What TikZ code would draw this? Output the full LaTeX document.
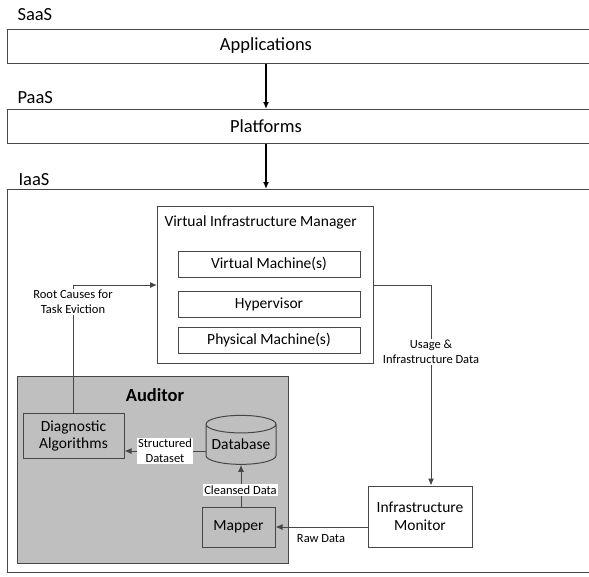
\documentclass[tikz,border=0pt]{standalone}
\usepackage{fontspec}
\setmainfont{Carlito}
\usetikzlibrary{positioning,shapes.geometric,arrows.meta}

\definecolor{audgray}{RGB}{191,191,191}
\definecolor{linegray}{RGB}{70,70,70}

\tikzset{
	layer/.style={draw=linegray, line width=1pt, fill=white, minimum height=34pt},
	box/.style={draw=linegray, line width=1pt, fill=white, font=\fontsize{15.5}{18}\selectfont},
	graybox/.style={box, fill=audgray},
	tag/.style={font=\fontsize{12.5}{15}\selectfont, align=center, inner sep=1.5pt},
}

\begin{document}
\begin{tikzpicture}[x=1pt, y=-1pt, >={Latex[length=7pt,width=6pt]}, font=\fontsize{18.5}{22}\selectfont]
		\useasboundingbox (0,0) rectangle (589,576);

		% the three service layers
		\node(SaaS)[anchor=west] at (14,15){SaaS};
		\node(Apps)[layer, minimum width=600pt, anchor=north west] at (7,29){};
		\node(AppsT) at (266,45.5){Applications};
		\node(PaaS)[anchor=west] at (14,98){PaaS};
		\node(Plat)[layer, minimum width=600pt, anchor=north west] at (7,109){};
		\node(PlatT) at (266,126){Platforms};
		\node(IaaS)[anchor=west] at (15,180){IaaS};
		\node(Iaas)[layer, minimum width=600pt, minimum height=383pt, anchor=north west] at (7,189){};

		% virtual infrastructure manager
		\node(VIM)[box, minimum width=216pt, minimum height=157pt, anchor=north west] at (157,206){};
		\node(VIMT)[anchor=west, font=\fontsize{15.5}{18}\selectfont] at (161,222){Virtual Infrastructure Manager};
		\node(VM)[box, minimum width=182pt, minimum height=26pt] at (269,264){Virtual Machine(s)};
		\node(HV)[box, minimum width=182pt, minimum height=26pt] at (269,304.5){Hypervisor};
		\node(PM)[box, minimum width=182pt, minimum height=26pt] at (269,340){Physical Machine(s)};

		% auditor
		\node(Aud)[graybox, minimum width=271pt, minimum height=187pt, anchor=north west] at (17,376){};
		\node(AudT)[font=\bfseries\fontsize{18.5}{22}\selectfont] at (155,395){Auditor};
		\node(Diag)[graybox, minimum width=101pt, minimum height=45pt, align=center, font=\fontsize{15.5}{17}\selectfont] at (73.5,435.5){Diagnostic\\Algorithms};
		\node(DB)[graybox, cylinder, shape border rotate=90, aspect=0.3, minimum width=70pt, minimum height=49pt, inner sep=0pt] at (241,444.5){Database};
		\node(Map)[graybox, minimum width=73pt, minimum height=40pt] at (238.5,527){Mapper};

		% monitor
		\node(Mon)[box, minimum width=104pt, minimum height=61pt, align=center, font=\fontsize{15.5}{18}\selectfont] at (420,516.5){Infrastructure\\Monitor};

		\coordinate(RC) at (73,285);
		\coordinate(UD) at (431,285);

		\draw[->, line width=1.5pt] (AppsT |- Apps.south) -- (PlatT |- Plat.north);
		\draw[->, line width=1.5pt] (PlatT |- Plat.south) -- (PlatT |- Iaas.north);

		\draw[->, draw=linegray, line width=1pt] (Diag.north -| RC) -- (RC) -- (VIM.west |- RC);
		\draw[->, draw=linegray, line width=1pt] (VIM.east |- UD) -- (UD) -- (UD |- Mon.north);
		\draw[->, draw=linegray, line width=1pt] (Mon.west |- Map.east) -- (Map.east);
		\draw[->, draw=linegray, line width=1pt] (DB.west |- 0,451) -- (Diag.east |- 0,451);
		\draw[->, draw=linegray, line width=1pt] (Map.north -| DB) -- (DB.bottom);

		\node(RCT)[tag, fill=white] at (73,302){Root Causes for\\Task Eviction};
		\node(UDT)[tag, fill=white] at (431,352){Usage \&\\Infrastructure Data};
		\node(SDT)[tag, fill=white] at (165,451){Structured\\Dataset};
		\node(CDT)[tag, fill=white] at (240.5,490){Cleansed Data};
		\node(RDT)[tag] at (321,539){Raw Data};
	\end{tikzpicture}
\end{document}
